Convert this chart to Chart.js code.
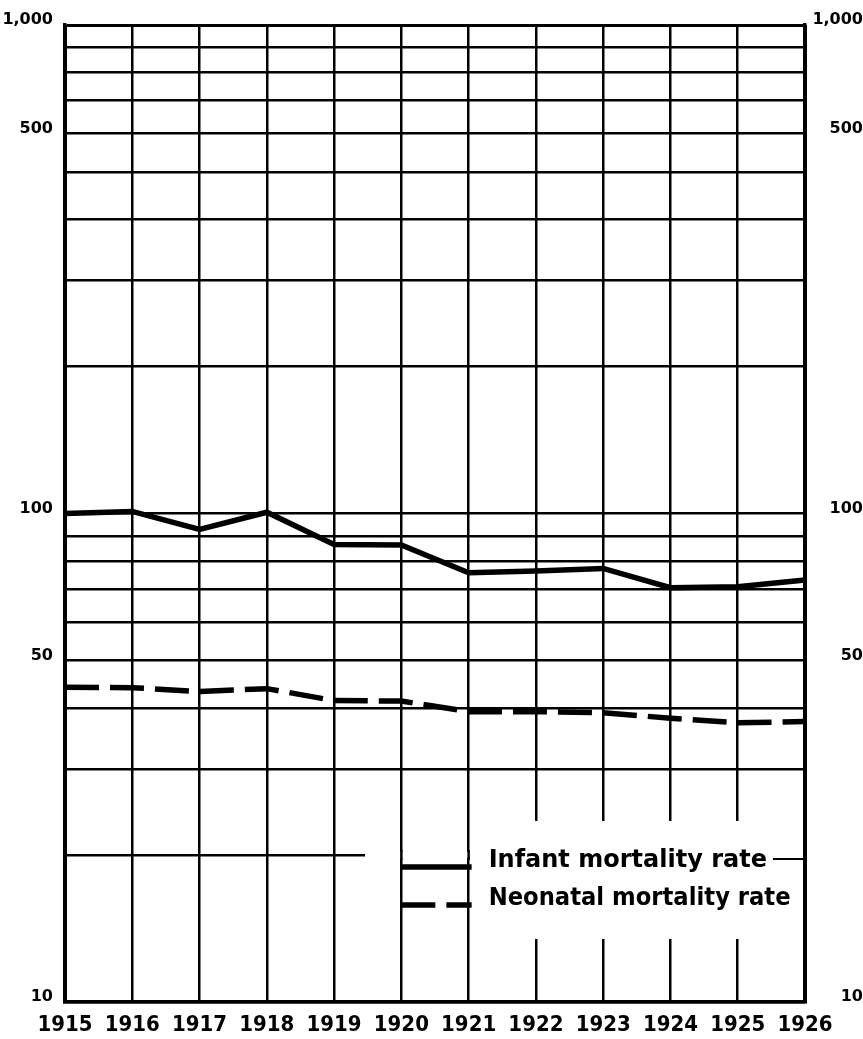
<!DOCTYPE html>
<html>
<head>
<meta charset="utf-8">
<script src="https://cdn.jsdelivr.net/npm/chart.js@4/dist/chart.umd.min.js"></script>
<style>
  html, body { margin: 0; padding: 0; background: #fff; }
  canvas { display: block; }
</style>
</head>
<body>
<canvas id="chart" width="863" height="1039"></canvas>
<script>
// values (rates per 1,000 live births)
const years = ['1915', '1916', '1917', '1918', '1919', '1920', '1921', '1922', '1923', '1924', '1925', '1926'];
const infantRate = [100.0, 101.0, 92.8, 100.6, 86.4, 86.2, 75.6, 76.3, 77.2, 70.5, 70.8, 73.1];
const neonatalRate = [44.1, 44.0, 43.2, 43.8, 41.4, 41.3, 39.3, 39.3, 39.1, 38.1, 37.3, 37.5];

// log grid lines and the labels printed beside them
const gridValues = [10, 20, 30, 40, 50, 60, 70, 80, 90, 100, 200, 300, 400, 500, 600, 700, 800, 900, 1000];
const labelValues = [10, 50, 100, 600, 1000];
const labelText = ['10', '50', '100', '500', '1,000'];

const ink = '#000';

const tickLabel = (v) => {
  const i = labelValues.indexOf(Math.round(v));
  return i < 0 ? '' : labelText[i];
};

const yFont = { family: 'DejaVu Sans', weight: 'bold', size: 16 };

// white page
const paper = {
  id: 'paper',
  beforeDraw(chart) {
    const c = chart.ctx;
    c.save();
    c.fillStyle = '#fff';
    c.fillRect(0, 0, chart.width, chart.height);
    c.restore();
  }
};

// the key sits in a blank patch of the grid
const keyBox = {
  id: 'keyBox',
  beforeDatasetsDraw(chart) {
    const c = chart.ctx;
    const x = chart.scales.x, y = chart.scales.y;
    const y20 = y.getPixelForValue(20);
    const x1919 = x.getPixelForValue(4), x1920 = x.getPixelForValue(5), x1921 = x.getPixelForValue(6);
    const right = chart.chartArea.right;
    c.save();
    c.fillStyle = '#fff';
    // 20 line stops short of the key
    c.fillRect(x1919 + 31, y20 - 3, x1921 - x1919, 6);
    c.fillRect(x1921 + 3, y20 - 34, right - x1921 - 5, 118);
    c.strokeStyle = ink;
    c.lineWidth = 2.5;
    c.beginPath();
    c.moveTo(x1920, y20 - 5); c.lineTo(x1920, y20 + 5);
    c.moveTo(x1921, y20 - 5); c.lineTo(x1921, y20 + 5);
    c.stroke();
    c.restore();
  },
  afterDatasetsDraw(chart) {
    const c = chart.ctx;
    const x = chart.scales.x, y = chart.scales.y;
    const y20 = y.getPixelForValue(20);
    const x1920 = x.getPixelForValue(5), x1921 = x.getPixelForValue(6);
    const right = chart.chartArea.right;
    c.save();
    c.font = 'bold 24px "DejaVu Sans"';
    c.textBaseline = 'middle';
    c.fillStyle = ink;
    chart.data.datasets.forEach((ds, i) => {
      const row = y20 + 12 + i * 38;
      c.strokeStyle = ink;
      c.lineWidth = ds.borderWidth;
      c.setLineDash(ds.borderDash || []);
      c.beginPath();
      c.moveTo(x1920, row);
      c.lineTo(x1921 + 3, row);
      c.stroke();
      c.setLineDash([]);
      const tx = x1921 + 20;
      const maxW = i === 0 ? 280 : 302;
      c.fillText(ds.label, tx, row - 6, maxW);
      if (i === 0) {
        const end = tx + Math.min(c.measureText(ds.label).width, maxW);
        c.lineWidth = 2;
        c.beginPath();
        c.moveTo(end + 6, y20 + 4);
        c.lineTo(right, y20 + 4);
        c.stroke();
      }
    });
    c.restore();
  }
};

const edgeWidth = (ctx, n) => (ctx.index === 0 || ctx.index === n - 1) ? 3 : 2.5;

new Chart(document.getElementById('chart'), {
  type: 'line',
  data: {
    labels: years,
    datasets: [
      {
        label: 'Infant mortality rate',
        data: infantRate,
        borderColor: ink,
        borderWidth: 5.5,
        pointRadius: 0,
        tension: 0,
        yAxisID: 'y'
      },
      {
        label: 'Neonatal mortality rate',
        data: neonatalRate,
        borderColor: ink,
        borderWidth: 5.5,
        borderDash: [34, 11],
        pointRadius: 0,
        tension: 0,
        yAxisID: 'y'
      }
    ]
  },
  options: {
    responsive: false,
    animation: false,
    layout: { padding: { top: 25, left: 0, right: 0, bottom: 0 } },
    plugins: {
      legend: { display: false },
      tooltip: { enabled: false }
    },
    scales: {
      x: {
        type: 'category',
        offset: false,
        grid: { color: ink, lineWidth: (ctx) => edgeWidth(ctx, years.length), drawTicks: false },
        border: { color: ink, width: 3.5 },
        ticks: {
          color: ink,
          autoSkip: false,
          maxRotation: 0,
          padding: 10,
          font: { family: '"DejaVu Sans Condensed", "DejaVu Sans"', weight: 'bold', size: 22 }
        },
        afterFit: (s) => { s.height = 37; }
      },
      y: {
        type: 'logarithmic',
        position: 'left',
        min: 10,
        max: 1000,
        afterBuildTicks: (s) => { s.ticks = gridValues.map(v => ({ value: v })); },
        grid: { color: ink, lineWidth: (ctx) => (ctx.tick && ctx.tick.value === 1000) ? 3 : 2.5, drawTicks: false },
        border: { color: ink, width: 3.5 },
        ticks: { color: ink, autoSkip: false, padding: 12, labelOffset: -5, font: yFont, callback: tickLabel },
        afterFit: (s) => { s.width = 65; }
      },
      y2: {
        type: 'logarithmic',
        position: 'right',
        min: 10,
        max: 1000,
        afterBuildTicks: (s) => { s.ticks = gridValues.map(v => ({ value: v })); },
        grid: { display: false, drawTicks: false },
        border: { color: ink, width: 3.5 },
        ticks: { color: ink, autoSkip: false, padding: 3, labelOffset: -5, crossAlign: 'far', font: yFont, callback: tickLabel },
        afterFit: (s) => { s.width = 58; }
      }
    }
  },
  plugins: [paper, keyBox]
});
</script>
</body>
</html>
